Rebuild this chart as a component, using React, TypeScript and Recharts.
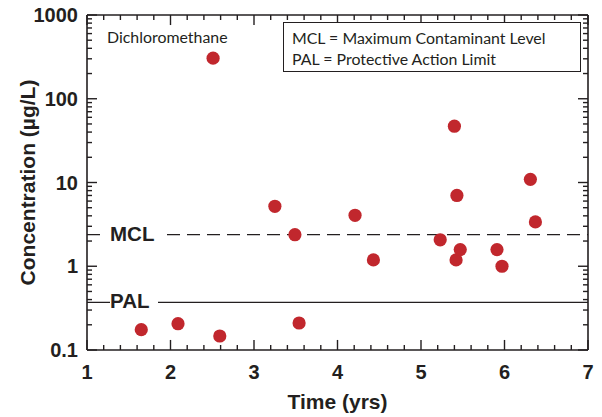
import {
  ScatterChart,
  Scatter,
  XAxis,
  YAxis,
  ReferenceLine,
} from 'recharts';

const INK = '#231F20';
const DOT = '#C1272D';

// time (yrs) and concentration (ug/L) of each sample
const times = [1.65, 2.09, 2.51, 2.59, 3.25, 3.49, 3.54, 4.21, 4.43, 5.23, 5.4, 5.43, 5.42, 5.47, 5.91, 5.97, 6.31, 6.37];
const concentrations = [0.175, 0.206, 305, 0.147, 5.2, 2.38, 0.21, 4.06, 1.19, 2.07, 47, 7.0, 1.19, 1.58, 1.58, 1.0, 10.9, 3.38];

const MCL = 2.38;
const PAL = 0.37;

const xTicks = [
  1, 1.2, 1.4, 1.6, 1.8, 2, 2.2, 2.4, 2.6, 2.8, 3, 3.2, 3.4, 3.6, 3.8, 4,
  4.2, 4.4, 4.6, 4.8, 5, 5.2, 5.4, 5.6, 5.8, 6, 6.2, 6.4, 6.6, 6.8, 7,
];
const yTicks = [
  0.1, 0.2, 0.3, 0.4, 0.5, 0.6, 0.7, 0.8, 0.9,
  1, 2, 3, 4, 5, 6, 7, 8, 9,
  10, 20, 30, 40, 50, 60, 70, 80, 90,
  100, 200, 300, 400, 500, 600, 700, 800, 900,
  1000,
];

const points = times.map((t, i) => ({ t, c: concentrations[i] }));

// chart geometry
const W = 602;
const H = 417;
const M = { top: 15, right: 14, bottom: 27, left: 17 };
const Y_AXIS_W = 70;
const X_AXIS_H = 40;
const PLOT_W = W - M.left - M.right - Y_AXIS_W;
const PLOT_H = H - M.top - M.bottom - X_AXIS_H;

// inward tick lengths (10px major, 5px minor) in axis units
const X_TICK_MAJOR = 0.12;
const X_TICK_MINOR = 0.06;
const Y_TICK_MAJOR = 1.318;
const Y_TICK_MINOR = 1.148;

const isMajorX = (v: number) => Math.abs(v - Math.round(v)) < 1e-6;
const isMajorY = (v: number) => {
  const l = Math.log10(v);
  return Math.abs(l - Math.round(l)) < 1e-6;
};

const tickFont = {
  fontFamily: '"Liberation Sans", Arial, sans-serif',
  fontWeight: 700,
  fontSize: 20,
  fill: INK,
};

const YTick = (props: any) => {
  const x = Number(props.x);
  const y = Number(props.y);
  if (!isMajorY(props.payload.value)) return <g />;
  return (
    <text x={x} y={y + 7} textAnchor="end" {...tickFont}>
      {String(props.payload.value)}
    </text>
  );
};

const XTick = (props: any) => {
  const x = Number(props.x);
  const y = Number(props.y);
  if (!isMajorX(props.payload.value)) return <g />;
  return (
    <text x={x} y={y + 21} textAnchor="middle" {...tickFont}>
      {String(props.payload.value)}
    </text>
  );
};

const titleFont = {
  fontFamily: '"Liberation Sans", Arial, sans-serif',
  fontWeight: 700,
  fontSize: 21,
  fill: INK,
};

const LimitLabel = (props: any) => {
  const { viewBox, text, gapStart, gapEnd } = props;
  return (
    <g>
      <rect x={viewBox.x + gapStart} y={viewBox.y - 4} width={gapEnd - gapStart} height={8} fill="#fff" />
      <text x={viewBox.x + 23} y={viewBox.y + 6} {...titleFont} fontSize={20.5}>
        {text}
      </text>
    </g>
  );
};

const Dot = (props: any) => <circle cx={props.cx} cy={props.cy} r={6.6} fill={DOT} />;

const plotLeft = M.left + Y_AXIS_W;
const plotCx = plotLeft + PLOT_W / 2;
const plotCy = M.top + PLOT_H / 2;

const yTickMarks = yTicks.flatMap((v) => {
  const d = isMajorY(v) ? X_TICK_MAJOR : X_TICK_MINOR;
  return [
    <ReferenceLine key={`l${v}`} segment={[{ x: 1, y: v }, { x: 1 + d, y: v }]} stroke={INK} strokeWidth={1.4} />,
    <ReferenceLine key={`r${v}`} segment={[{ x: 7 - d, y: v }, { x: 7, y: v }]} stroke={INK} strokeWidth={1.4} />,
  ];
});

const xTickMarks = xTicks.flatMap((v) => {
  const f = isMajorX(v) ? Y_TICK_MAJOR : Y_TICK_MINOR;
  return [
    <ReferenceLine key={`b${v}`} segment={[{ x: v, y: 0.1 }, { x: v, y: 0.1 * f }]} stroke={INK} strokeWidth={1.4} />,
    <ReferenceLine key={`t${v}`} segment={[{ x: v, y: 1000 / f }, { x: v, y: 1000 }]} stroke={INK} strokeWidth={1.4} />,
  ];
});

const App = () => {
  return (
    <div style={{ position: 'absolute', left: 0, top: 0, width: W, height: H, background: '#fff' }}>
      <ScatterChart width={W} height={H} margin={M}>
        <XAxis
          dataKey="t"
          type="number"
          domain={[1, 7]}
          ticks={xTicks}
          interval={0}
          allowDataOverflow
          height={X_AXIS_H}
          tickSize={0}
          tickMargin={8}
          tick={<XTick />}
          axisLine={{ stroke: INK, strokeWidth: 1.6 }}
        />
        <YAxis
          dataKey="c"
          type="number"
          scale="log"
          domain={[0.1, 1000]}
          ticks={yTicks}
          interval={0}
          allowDataOverflow
          width={Y_AXIS_W}
          tickSize={0}
          tickMargin={9}
          tick={<YTick />}
          axisLine={{ stroke: INK, strokeWidth: 1.6 }}
        />
        <ReferenceLine y={1000} stroke={INK} strokeWidth={1.6} />
        <ReferenceLine x={7} stroke={INK} strokeWidth={1.6} />
        {yTickMarks}
        {xTickMarks}
        <ReferenceLine
          y={MCL}
          stroke={INK}
          strokeWidth={1.2}
          strokeDasharray="13 7"
          label={<LimitLabel text="MCL" gapStart={19} gapEnd={73} />}
        />
        <ReferenceLine
          y={PAL}
          stroke={INK}
          strokeWidth={1.2}
          label={<LimitLabel text="PAL" gapStart={23} gapEnd={71} />}
        />
        <Scatter data={points} shape={<Dot />} isAnimationActive={false} />
      </ScatterChart>
      <svg
        width={W}
        height={H}
        style={{ position: 'absolute', left: 0, top: 0, pointerEvents: 'none' }}
      >
        <text
          x={27}
          y={plotCy}
          transform={`rotate(-90, 27, ${plotCy})`}
          textAnchor="middle"
          dominantBaseline="central"
          {...titleFont}
        >
          Concentration (µg/L)
        </text>
        <text x={plotCx} y={409} textAnchor="middle" {...titleFont}>
          Time (yrs)
        </text>
      </svg>
      <div
        style={{
          position: 'absolute',
          left: 107,
          top: 27,
          fontFamily: 'Lato, sans-serif',
          fontSize: 15.9,
          color: INK,
          lineHeight: '20px',
        }}
      >
        Dichloromethane
      </div>
      <div
        style={{
          position: 'absolute',
          left: 283,
          top: 22,
          width: 298,
          height: 50,
          border: `1px solid ${INK}`,
          background: '#fff',
          fontFamily: 'Lato, sans-serif',
          fontSize: 15.9,
          color: INK,
          lineHeight: '20.5px',
          paddingLeft: 8,
          paddingTop: 5,
          boxSizing: 'border-box',
        }}
      >
        <div>MCL = Maximum Contaminant Level</div>
        <div>PAL = Protective Action Limit</div>
      </div>
    </div>
  );
};

export default App;
